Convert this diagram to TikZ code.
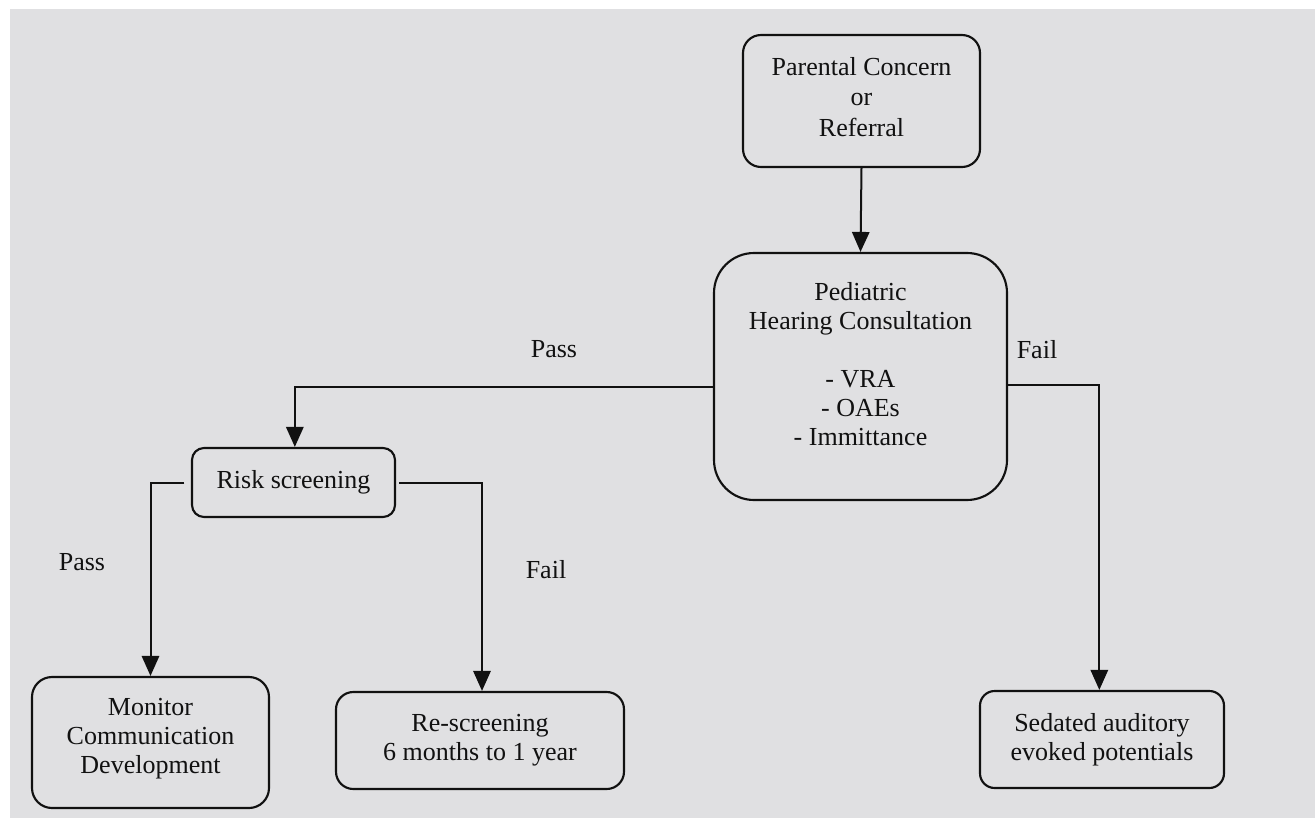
\documentclass[tikz,border=0pt]{standalone}
\usepackage{fontspec}
\setmainfont{Liberation Serif}
\usetikzlibrary{arrows.meta}
\definecolor{bggray}{HTML}{E0E0E2}
\definecolor{ink}{HTML}{111111}
\tikzset{
  box/.style={draw=ink, line width=1.6pt, align=center, inner sep=0pt,
    font=\fontsize{19.5pt}{21.75pt}\selectfont, text=ink},
  lbl/.style={font=\fontsize{19.5pt}{21.75pt}\selectfont, text=ink, inner sep=0pt},
  conn/.style={draw=ink, line width=1.5pt},
  arr/.style={conn, -{Triangle[length=15pt,width=13pt]}}
}
\begin{document}
\begin{tikzpicture}[x=0.75pt,y=-0.75pt]
\useasboundingbox (0,0) rectangle (1315,818);
\fill[bggray] (10,9) rectangle (1315,818);

\node[box, rounded corners=13.5pt, minimum width=177.75pt, minimum height=99pt] (par) at (861.5,101) {};
\node[lbl, align=center, font=\fontsize{19.5pt}{23pt}\selectfont] (partext) at (861.5,97) {Parental Concern\\or\\Referral};
\node[box, rounded corners=30pt, minimum width=219.75pt, minimum height=185.25pt] (ped) at (860.5,376.5) {};
\node[lbl, align=center] (pedtext) at (860.5,364) {Pediatric\\Hearing Consultation\\[21.75pt]- VRA\\- OAEs\\- Immittance};
\node[box, rounded corners=9pt, minimum width=152.25pt, minimum height=51.75pt] (risk) at (293.5,482.5) {Risk screening};
\node[box, rounded corners=15pt, minimum width=177.75pt, minimum height=98.25pt] (mon) at (150.5,742.5) {};
\node[lbl, align=center] (montext) at (150.5,739) {Monitor\\Communication\\Development};
\node[box, rounded corners=13pt, minimum width=216pt, minimum height=72.75pt] (re) at (480,740.5) {Re-screening\\6 months to 1 year};
\node[box, rounded corners=11pt, minimum width=183pt, minimum height=72.75pt] (sed) at (1102,739.5) {Sedated auditory\\evoked potentials};

\node[lbl] (lpass1) at (554,349) {Pass};
\node[lbl] (lfail1) at (1037,350) {Fail};
\node[lbl] (lpass2) at (82,562) {Pass};
\node[lbl] (lfail2) at (546,569.5) {Fail};

\draw[arr] (par.south) -- (ped.north);
\draw[arr] ([yshift=-7.9pt]ped.west) -| ([xshift=1pt]risk.north);
\draw[arr] ([yshift=-6.4pt]ped.east) -| ([xshift=-2pt]sed.north);
\draw[arr] ([xshift=-5pt]risk.west) -| (mon.north);
\draw[arr] ([xshift=2.2pt]risk.east) -| ([xshift=1.5pt]re.north);
\end{tikzpicture}
\end{document}
